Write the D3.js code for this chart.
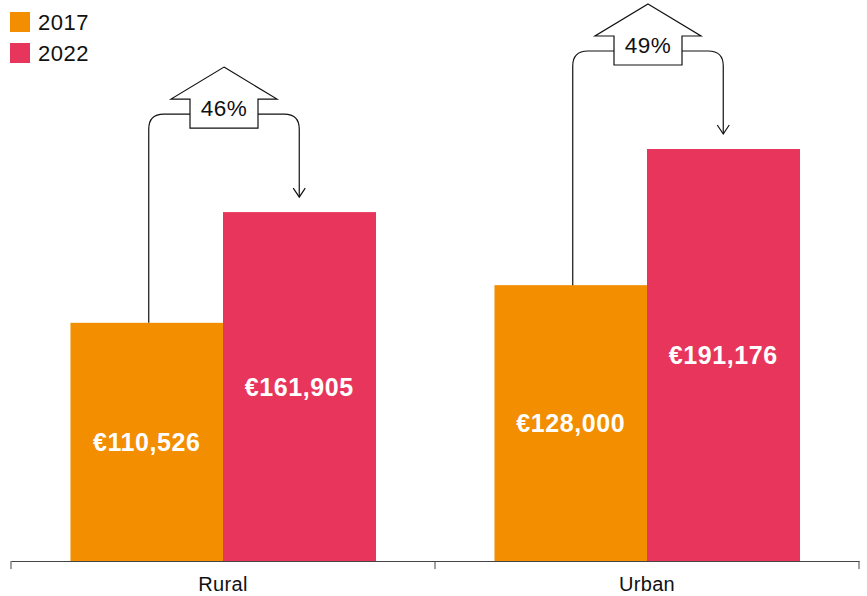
<!DOCTYPE html>
<html>
<head>
<meta charset="utf-8">
<script src="https://cdn.jsdelivr.net/npm/d3@7"></script>
<style>
  body { margin: 0; background: #fff; }
  svg { font-family: "Liberation Sans", Arial, sans-serif; }
</style>
</head>
<body>
<svg id="canvas"></svg>
<script>
var w = 867;
var h = 596;
var areas = ['Rural', 'Urban']
var years = ['2017', '2022']
var values2017 = [110526, 128000]
var values2022 = [161905, 191176]
var changes = ['46%', '49%']
var colours = ['#f28e00', '#e8355c']

var svg = d3.select('#canvas')
  .attr('width', w)
  .attr('height', h)

var x0 = d3.scaleBand().domain(areas).range([11, 859]).padding(0)
var x1 = d3.scaleBand().domain(years).range([0, x0.bandwidth()])
  .paddingInner(0).paddingOuter(0.39)
var y = d3.scaleLinear().domain([0, 200000]).range([561, 130])
var colour = d3.scaleOrdinal().domain(years).range(colours)

var data = []
areas.forEach((a, i) => {
  data.push({area: a, year: '2017', value: values2017[i]})
  data.push({area: a, year: '2022', value: values2022[i]})
})

var fmt = d3.format(',')

// bars
svg.selectAll('.bar')
  .data(data)
  .enter()
  .append('rect')
  .attr('class', 'bar')
  .attr('x', d => x0(d.area) + x1(d.year))
  .attr('y', d => y(d.value))
  .attr('width', x1.bandwidth() + 0.5)
  .attr('height', d => y(0) - y(d.value))
  .style('fill', d => colour(d.year))

svg.selectAll('.val')
  .data(data)
  .enter()
  .append('text')
  .attr('class', 'val')
  .attr('x', d => x0(d.area) + x1(d.year) + x1.bandwidth() / 2)
  .attr('y', d => (y(d.value) + y(0)) / 2)
  .attr('dy', '0.36em')
  .attr('text-anchor', 'middle')
  .style('fill', '#fff')
  .style('font-weight', 'bold')
  .style('font-size', '25px')
  .style('letter-spacing', '0.6px')
  .text(d => '€' + fmt(d.value))

// axis
var axis = svg.append('g')
  .attr('transform', 'translate(0,' + y(0) + ')')
  .call(d3.axisBottom(x0).tickSize(0).tickPadding(14))
axis.select('.domain').attr('stroke', '#444')
axis.selectAll('.tick text')
  .attr('y', 30)
  .attr('dy', null)
  .style('font-size', '20px')
  .style('letter-spacing', '0.3px')
  .style('font-family', '"Liberation Sans", Arial, sans-serif')
  .style('fill', '#111')
axis.selectAll('.edge')
  .data([11, 435, 859])
  .enter()
  .append('line')
  .attr('x1', d => d).attr('x2', d => d)
  .attr('y1', 0).attr('y2', 8)
  .attr('stroke', '#444')

// change arrows
var r = 15
areas.forEach((a, i) => {
  var xl = x0(a) + x1('2017') + x1.bandwidth() / 2 + 2
  var xr = x0(a) + x1('2022') + x1.bandwidth() / 2
  var yTop = y(values2022[i]) - 98
  var yStart = y(values2017[i])
  var yEnd = y(values2022[i]) - 15
  var cx = (xl + xr) / 2

  svg.append('path')
    .attr('d', 'M' + xl + ',' + yStart + 'V' + (yTop + r) +
      'Q' + xl + ',' + yTop + ' ' + (xl + r) + ',' + yTop +
      'H' + (xr - r) +
      'Q' + xr + ',' + yTop + ' ' + xr + ',' + (yTop + r) +
      'V' + yEnd)
    .style('fill', 'none')
    .style('stroke', '#111')
    .style('stroke-width', 1.2)
  svg.append('path')
    .attr('d', 'M' + (xr - 6) + ',' + (yEnd - 9) + 'L' + xr + ',' + yEnd + 'L' + (xr + 6) + ',' + (yEnd - 9))
    .style('fill', 'none')
    .style('stroke', '#111')
    .style('stroke-width', 1.2)

  // block arrow
  var ww = 53, sw = 34
  var pts = [
    [cx, yTop - 47],
    [cx + ww, yTop - 15],
    [cx + sw, yTop - 15],
    [cx + sw, yTop + 14],
    [cx - sw, yTop + 14],
    [cx - sw, yTop - 15],
    [cx - ww, yTop - 15]
  ]
  svg.append('path')
    .attr('d', d3.line()(pts) + 'Z')
    .style('fill', '#fff')
    .style('stroke', '#111')
    .style('stroke-width', 1.2)
  svg.append('text')
    .attr('x', cx)
    .attr('y', yTop + 1.5)
    .attr('text-anchor', 'middle')
    .style('font-size', '22.5px')
    .style('letter-spacing', '0.5px')
    .style('fill', '#111')
    .text(changes[i])
})

// legend
var legend = svg.selectAll('.legend')
  .data(years)
  .enter()
  .append('g')
  .attr('class', 'legend')
  .attr('transform', (d, i) => 'translate(10,' + (12 + i * 31) + ')')
legend.append('rect')
  .attr('width', 20).attr('height', 20)
  .style('fill', d => colour(d))
legend.append('text')
  .attr('x', 28).attr('y', 18)
  .style('font-size', '22px')
  .style('letter-spacing', '0.5px')
  .style('fill', '#111')
  .text(d => d)
</script>
</body>
</html>
